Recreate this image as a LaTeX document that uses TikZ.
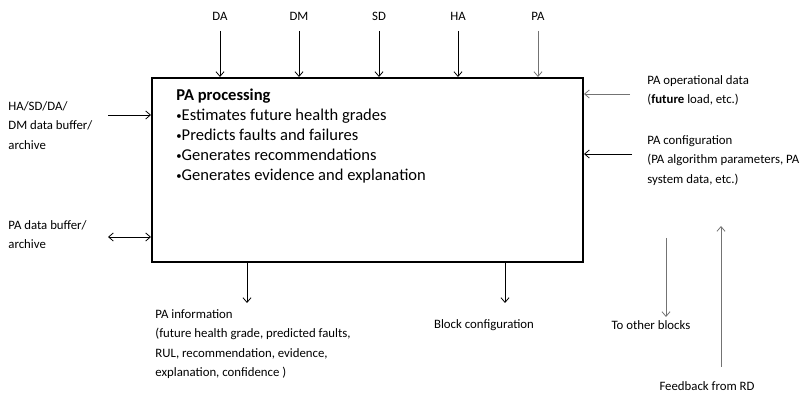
\documentclass[tikz,border=0pt]{standalone}
\usepackage{fontspec}
\setmainfont{Carlito}
\usetikzlibrary{arrows.meta}
\tikzset{every picture/.style={line width=0.6pt}}
\tikzset{
  lbl/.style={anchor=north west, inner sep=0.75pt, align=left, font=\fontsize{9.6}{14.6}\selectfont},
  tag/.style={inner sep=0.75pt, font=\fontsize{9.6}{11}\selectfont},
  flow/.style={-{Straight Barb[length=3.5pt,width=6pt]}},
  flowgray/.style={flow, draw=black!55},
}
\newcommand{\smallbul}{{\fontsize{8}{8}\selectfont\raisebox{0.25ex}{•}}}

\begin{document}
\begin{tikzpicture}[x=0.75pt,y=0.75pt,yscale=-1,xscale=1]
\useasboundingbox (0,0) rectangle (807,395);

%Shape: Rectangle [id:procbox]
\node (proc) [draw, line width=1.5pt, inner sep=0pt, minimum width=323.25pt, minimum height=138pt] at (367.5,170) {};
% Text Node
\node (proctext) at (175,88) [anchor=north west, inner sep=0.75pt, align=left, font=\fontsize{12.4}{15}\selectfont]
  {\textbf{PA processing}\\ \smallbul Estimates future health grades\\ \smallbul Predicts faults and failures\\ \smallbul Generates recommendations\\ \smallbul Generates evidence and explanation};

%Top inputs
\foreach \x/\t/\c in {220/DA/black, 299/DM/black, 379/SD/black, 458/HA/black, 538/PA/black!55}{
  \node (top\t) at (\x,16) [tag] {\t};
  \coordinate (src\t) at (\x,31);
  \draw [flow, draw=\c] (src\t) -- (src\t |- proc.north);
}

%Left side
\node (bufin) at (7,100) [lbl] {HA/SD/DA/\\DM data buffer/\\archive};
\coordinate (bufinend) at (108,115);
\draw [flow] (bufinend) -- (bufinend -| proc.west);

\node (pabuf) at (7,219) [lbl] {PA data buffer/\\archive};
\coordinate (pabufend) at (108,237);
\draw [{Straight Barb[length=3.5pt,width=6pt]}-{Straight Barb[length=3.5pt,width=6pt]}] (pabufend) -- (pabufend -| proc.west);

%Right side
\node (opdata) at (646,74) [lbl] {PA operational data\\(\textbf{future} load, etc.)};
\coordinate (opend) at (630,94);
\draw [flowgray] (opend) -- (opend -| proc.east);

\node (pacfg) at (646,134) [lbl] {PA configuration\\(PA algorithm parameters, PA\\system data, etc.)};
\coordinate (cfgend) at (632,154);
\draw [flow] (cfgend) -- (cfgend -| proc.east);

%Bottom outputs
\coordinate (infoend) at (247,303);
\draw [flow] (infoend |- proc.south) -- (infoend);
\node (painfo) at (154,308) [lbl] {PA information\\(future health grade, predicted faults,\\RUL, recommendation, evidence,\\explanation, confidence )};

\coordinate (blkend) at (505,303);
\draw [flow] (blkend |- proc.south) -- (blkend);
\node (blkcfg) at (484,325) [tag] {Block configuration};

\coordinate (othtop) at (666,238);
\coordinate (othend) at (666,317);
\draw [flowgray] (othtop) -- (othend);
\node (other) at (651,325) [tag] {To other blocks};

\coordinate (fbbot) at (721,367);
\coordinate (fbend) at (721,226);
\draw [flowgray] (fbbot) -- (fbend);
\node (fback) at (707,386) [tag] {Feedback from RD};

\end{tikzpicture}
\end{document}
